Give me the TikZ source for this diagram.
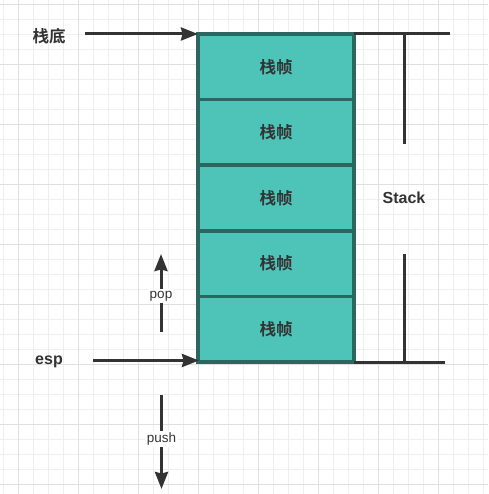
\documentclass[tikz,border=0pt]{standalone}
\usepackage{fontspec}
\setmainfont{Liberation Sans}
\newfontfamily\cjk{Noto Sans CJK SC}[BoldFont={* Bold}]
\usetikzlibrary{arrows.meta}
\definecolor{stackfill}{HTML}{4EC3B8}
\definecolor{stackdraw}{HTML}{2B6660}
\definecolor{txt}{HTML}{333333}
\definecolor{minorgrid}{HTML}{EFEFEF}
\definecolor{majorgrid}{HTML}{E0E0E0}
\begin{document}
\begin{tikzpicture}[x=1pt,y=-1pt,
  framebox/.style={draw=stackdraw, line width=3.5pt, fill=stackfill,
    minimum width=156pt, minimum height=65.6pt, inner sep=0pt, outer sep=0pt,
    font=\cjk\bfseries\fontsize{16.5}{18}\selectfont, text=txt},
  lbl/.style={font=\bfseries\fontsize{16}{18}\selectfont, text=txt, inner sep=1pt},
  cjklbl/.style={font=\cjk\bfseries\fontsize{16.5}{18}\selectfont, text=txt, inner sep=1pt},
  small/.style={font=\fontsize{13.5}{15}\selectfont, text=txt, fill=white, inner sep=1.5pt},
  arr/.style={draw=txt, line width=3pt, -{Stealth[length=17pt,width=13pt,inset=1.5pt]}},
  bar/.style={draw=txt, line width=3pt}]
\useasboundingbox (0,0) rectangle (488,494);
\fill[white] (0,0) rectangle (488,494);
% grid
\foreach \k in {0,...,32} {
  \draw[minorgrid, line width=0.8pt] ({3.3+15*\k},0) -- ({3.3+15*\k},494);
  \draw[minorgrid, line width=0.8pt] (0,{4.3+15*\k}) -- (488,{4.3+15*\k});
}
\foreach \k in {0,...,7} {
  \draw[majorgrid, line width=0.8pt] ({18.3+60*\k},0) -- ({18.3+60*\k},494);
}
\foreach \k in {0,...,8} {
  \draw[majorgrid, line width=0.8pt] (0,{4.3+60*\k}) -- (488,{4.3+60*\k});
}
% stack frames
\node[framebox] (f1) at (276,66.8) {栈帧};
\node[framebox] (f2) at (276,132.4) {栈帧};
\node[framebox] (f3) at (276,198.0) {栈帧};
\node[framebox] (f4) at (276,263.6) {栈帧};
\node[framebox] (f5) at (276,329.2) {栈帧};
% left labels
\node[cjklbl] (bottom) at (49,36) {栈底};
\node[lbl] (esp) at (49,362) {esp};
\coordinate (bstart) at (85,34);
\coordinate (estart) at (93,360.5);
\coordinate (eend) at (199,360.5);
\draw[arr] (bstart) -- (f1.north west);
\draw[arr] (estart) -- (eend);
% pop / push
\coordinate (popfrom) at (161,332);
\coordinate (popto) at (161,254);
\coordinate (pushfrom) at (161.5,395);
\coordinate (pushto) at (161.5,489);
\draw[arr] (popfrom) -- (popto) node[small, midway, yshift=-3pt] (pop) {pop};
\draw[arr] (pushfrom) -- (pushto) node[small, pos=0.47] (push) {push};
% stack bracket
\node[lbl] (stack) at (404,198) {Stack};
\coordinate (ttop) at (450,34);
\coordinate (vtop1) at (404,34);
\coordinate (vtop2) at (404,144);
\coordinate (vbot1) at (404,254);
\coordinate (vbot2) at (404,362);
\coordinate (bbot) at (445,362);
\draw[bar] (f1.north east) -- (ttop);
\draw[bar] (vtop1) -- (vtop2);
\draw[bar] (vbot1) -- (vbot2);
\draw[bar] (f5.south east) -- (bbot);
\end{tikzpicture}
\end{document}
